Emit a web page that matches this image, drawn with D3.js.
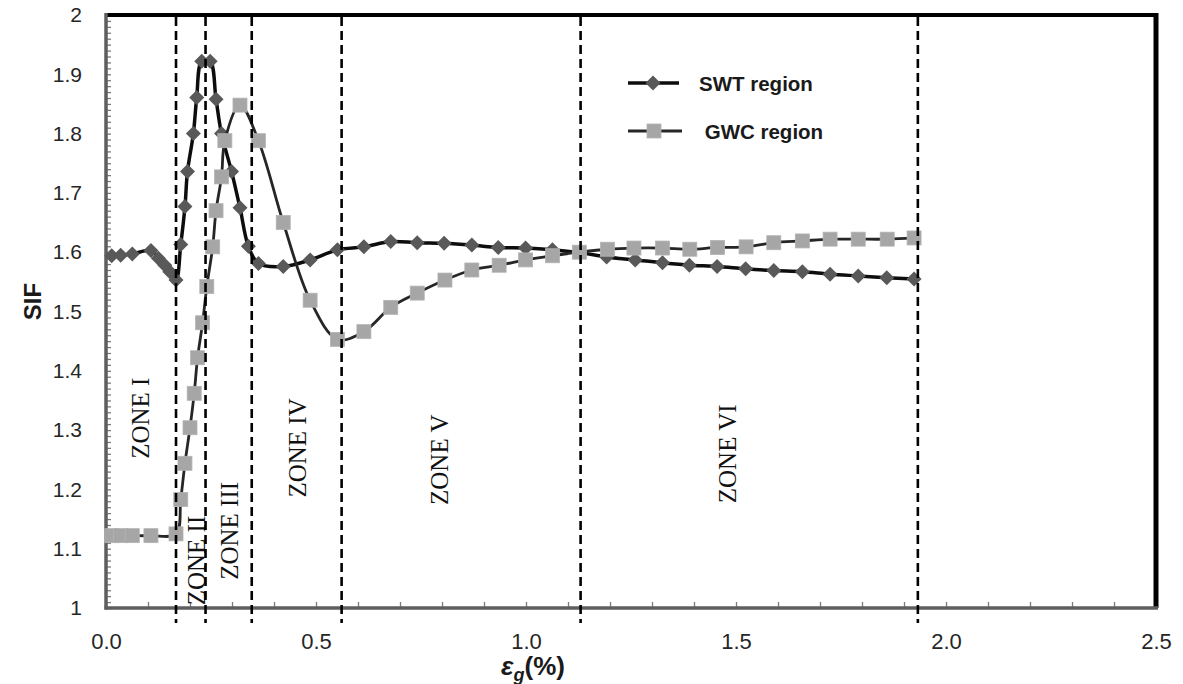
<!DOCTYPE html>
<html>
<head>
<meta charset="utf-8">
<script src="https://cdn.jsdelivr.net/npm/d3@7"></script>
<style>
  body { margin: 0; background: #fff; }
  svg { display: block; }
</style>
</head>
<body>
<div id="chart"></div>
<script>
// chart data
const swtX = [0.0136, 0.035, 0.0626, 0.107, 0.1245, 0.140, 0.152, 0.1667, 0.178, 0.188, 0.194, 0.208, 0.216, 0.228,
  0.248, 0.262, 0.275, 0.299, 0.319, 0.339, 0.363, 0.422, 0.486, 0.551, 0.614, 0.678, 0.741, 0.805, 0.871, 0.934,
  0.999, 1.063, 1.129, 1.192, 1.260, 1.325, 1.389, 1.455, 1.523, 1.590, 1.658, 1.724, 1.791, 1.859, 1.924];
const swtY = [1.594, 1.595, 1.597, 1.603, 1.590, 1.578, 1.567, 1.553, 1.613, 1.677, 1.736, 1.800, 1.861, 1.922,
  1.922, 1.858, 1.800, 1.736, 1.675, 1.610, 1.581, 1.576, 1.587, 1.604, 1.609, 1.618, 1.616, 1.615, 1.612, 1.608,
  1.607, 1.604, 1.599, 1.592, 1.587, 1.582, 1.578, 1.576, 1.572, 1.569, 1.567, 1.563, 1.560, 1.557, 1.555];

const gwcX = [0.0136, 0.035, 0.0626, 0.107, 0.1667, 0.178, 0.188, 0.200, 0.210, 0.218, 0.230, 0.240, 0.254, 0.262,
  0.275, 0.283, 0.319, 0.363, 0.422, 0.486, 0.551, 0.614, 0.678, 0.741, 0.807, 0.871, 0.936, 0.999, 1.063, 1.127,
  1.194, 1.257, 1.325, 1.390, 1.456, 1.524, 1.590, 1.658, 1.724, 1.791, 1.860, 1.924];
const gwcY = [1.122, 1.122, 1.122, 1.122, 1.125, 1.183, 1.244, 1.304, 1.362, 1.422, 1.481, 1.542, 1.609, 1.670,
  1.727, 1.788, 1.848, 1.788, 1.650, 1.519, 1.453, 1.466, 1.507, 1.531, 1.553, 1.570, 1.578, 1.587, 1.594, 1.600,
  1.605, 1.607, 1.607, 1.605, 1.608, 1.609, 1.616, 1.619, 1.622, 1.622, 1.622, 1.624];

// zone boundaries and labels
const zoneBounds = [0.1667, 0.237, 0.347, 0.561, 1.130, 1.933];
const zoneNames = ["ZONE I", "ZONE II", "ZONE III", "ZONE IV", "ZONE V", "ZONE VI"];
const zoneLabelX = [0.081, 0.216, 0.295, 0.457, 0.793, 1.479];
const zoneLabelY = [1.32, 1.08, 1.13, 1.27, 1.25, 1.26];

const xTicks = [0, 0.5, 1.0, 1.5, 2.0, 2.5];
const xTickLabels = ["0.0", "0.5", "1.0", "1.5", "2.0", "2.5"];
const yTicks = [1, 1.1, 1.2, 1.3, 1.4, 1.5, 1.6, 1.7, 1.8, 1.9, 2];
const yTickLabels = ["1", "1.1", "1.2", "1.3", "1.4", "1.5", "1.6", "1.7", "1.8", "1.9", "2"];

const seriesNames = ["SWT region", " GWC region"];

const W = 1183, H = 684;
const margin = { top: 15, right: 27, bottom: 76, left: 106 };

const svg = d3.select("#chart").append("svg")
  .attr("width", W)
  .attr("height", H);

const x = d3.scaleLinear().domain([0, 2.5]).range([margin.left, W - margin.right]);
const y = d3.scaleLinear().domain([1, 2]).range([H - margin.bottom, margin.top]);

// minor ticks (inside)
const yMinor = d3.range(100).map(i => 1 + i / 100);
const xMinor = d3.range(25).map(i => i / 10);

svg.append("g")
  .attr("transform", `translate(${margin.left},0)`)
  .call(d3.axisLeft(y).tickValues(yMinor).tickSize(-5).tickFormat(""))
  .call(g => g.select(".domain").remove())
  .call(g => g.selectAll("line").attr("stroke", "#7a7a7a").attr("stroke-width", 1.3));

svg.append("g")
  .attr("transform", `translate(0,${H - margin.bottom})`)
  .call(d3.axisBottom(x).tickValues(xMinor).tickSize(-6).tickFormat(""))
  .call(g => g.select(".domain").remove())
  .call(g => g.selectAll("line").attr("stroke", "#7a7a7a").attr("stroke-width", 1.3));

// tick labels
svg.append("g")
  .attr("transform", `translate(${margin.left},0)`)
  .call(d3.axisLeft(y).tickValues(yTicks).tickSize(0).tickPadding(24)
    .tickFormat((d, i) => yTickLabels[i]))
  .call(g => g.select(".domain").remove())
  .call(g => g.selectAll("text")
    .attr("font-family", "Liberation Sans, Arial, sans-serif")
    .attr("font-size", 21)
    .attr("fill", "#262626"));

svg.append("g")
  .attr("transform", `translate(0,${H - margin.bottom})`)
  .call(d3.axisBottom(x).tickValues(xTicks).tickSize(0).tickPadding(25)
    .tickFormat((d, i) => xTickLabels[i]))
  .call(g => g.select(".domain").remove())
  .call(g => g.selectAll("text")
    .attr("font-family", "Liberation Sans, Arial, sans-serif")
    .attr("font-size", 22)
    .attr("fill", "#262626"));

// frame: top and right black, left and bottom grey axes
const x0 = x(0), x1 = x(2.5), y0 = y(1), y1 = y(2);
svg.append("line").attr("x1", x0).attr("x2", x1 + 2).attr("y1", y1).attr("y2", y1)
  .attr("stroke", "#000").attr("stroke-width", 4);
svg.append("line").attr("x1", x1).attr("x2", x1).attr("y1", y1 - 2).attr("y2", y0)
  .attr("stroke", "#000").attr("stroke-width", 5);
svg.append("line").attr("x1", x0).attr("x2", x0).attr("y1", y1 - 2).attr("y2", y0 + 1.5)
  .attr("stroke", "#5e5e5e").attr("stroke-width", 3.5);
svg.append("line").attr("x1", x0 - 1.5).attr("x2", x1 + 2).attr("y1", y0).attr("y2", y0)
  .attr("stroke", "#5e5e5e").attr("stroke-width", 3.5);

// zone labels
svg.append("g").selectAll("text")
  .data(zoneNames)
  .join("text")
  .attr("transform", (d, i) => `translate(${x(zoneLabelX[i])},${y(zoneLabelY[i])}) rotate(-90)`)
  .attr("text-anchor", "middle")
  .attr("dominant-baseline", "central")
  .attr("font-family", "Liberation Serif, Times New Roman, serif")
  .attr("font-size", 25)
  .attr("fill", "#111")
  .text(d => d);

// series
const line = d3.line().curve(d3.curveCatmullRom.alpha(0.5));
const swt = swtX.map((v, i) => [x(v), y(swtY[i])]);
const gwc = gwcX.map((v, i) => [x(v), y(gwcY[i])]);
const diamond = "M0,-7.5L7.5,0L0,7.5L-7.5,0Z";

svg.append("path").attr("d", line(swt))
  .attr("fill", "none").attr("stroke", "#0d0d0d").attr("stroke-width", 3.5);
svg.append("g").selectAll("path")
  .data(swt)
  .join("path")
  .attr("d", diamond)
  .attr("transform", d => `translate(${d[0]},${d[1]})`)
  .attr("fill", "#595959");

svg.append("path").attr("d", line(gwc))
  .attr("fill", "none").attr("stroke", "#262626").attr("stroke-width", 2.8);
svg.append("g").selectAll("rect")
  .data(gwc)
  .join("rect")
  .attr("x", d => d[0] - 7)
  .attr("y", d => d[1] - 7)
  .attr("width", 14)
  .attr("height", 14)
  .attr("fill", "#a6a6a6")
  .attr("stroke", "#b3b3b3")
  .attr("stroke-width", 0.8);

// dashed zone boundaries
svg.append("g").selectAll("line")
  .data(zoneBounds)
  .join("line")
  .attr("x1", d => x(d)).attr("x2", d => x(d))
  .attr("y1", y1 + 2).attr("y2", y0 + 15)
  .attr("stroke", "#000")
  .attr("stroke-width", 2.6)
  .attr("stroke-dasharray", "9,5");

// legend
const leg = svg.append("g");
const legY = [83, 131];
leg.append("line").attr("x1", 628).attr("x2", 679).attr("y1", legY[0]).attr("y2", legY[0])
  .attr("stroke", "#0d0d0d").attr("stroke-width", 3.5);
leg.append("path").attr("d", diamond).attr("transform", `translate(653,${legY[0]})`).attr("fill", "#595959");
leg.append("line").attr("x1", 628).attr("x2", 682).attr("y1", legY[1]).attr("y2", legY[1])
  .attr("stroke", "#262626").attr("stroke-width", 2.8);
leg.append("rect").attr("x", 647).attr("y", legY[1] - 7).attr("width", 14).attr("height", 14)
  .attr("fill", "#a6a6a6").attr("stroke", "#b3b3b3").attr("stroke-width", 0.8);
leg.selectAll("text")
  .data(seriesNames)
  .join("text")
  .attr("x", 699)
  .attr("y", (d, i) => legY[i])
  .attr("dominant-baseline", "central")
  .attr("font-family", "Liberation Sans, Arial, sans-serif")
  .attr("font-weight", "bold")
  .attr("font-size", 20.5)
  .attr("fill", "#1a1a1a")
  .attr("xml:space", "preserve")
  .style("white-space", "pre")
  .text(d => d);

// axis titles
svg.append("text")
  .attr("transform", `translate(32,${y(1.5) - 10}) rotate(-90)`)
  .attr("text-anchor", "middle")
  .attr("dominant-baseline", "central")
  .attr("font-family", "Liberation Sans, Arial, sans-serif")
  .attr("font-weight", "bold")
  .attr("font-size", 24)
  .attr("fill", "#1a1a1a")
  .text("SIF");

const xt = svg.append("text")
  .attr("x", 533)
  .attr("y", 675)
  .attr("text-anchor", "middle")
  .attr("font-family", "Liberation Sans, Arial, sans-serif")
  .attr("font-weight", "bold")
  .attr("font-size", 26)
  .attr("fill", "#1a1a1a");
xt.append("tspan").attr("font-style", "italic").text("ε");
xt.append("tspan").attr("font-style", "italic").attr("font-size", 18).attr("dy", 6).text("g");
xt.append("tspan").attr("dy", -6).text("(%)");
</script>
</body>
</html>
